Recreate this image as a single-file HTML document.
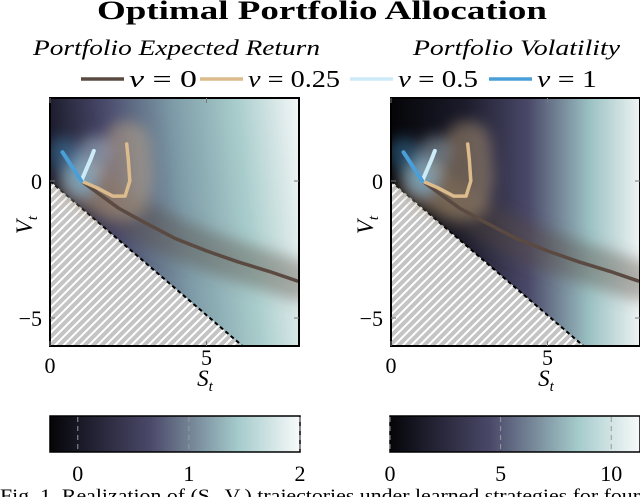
<!DOCTYPE html>
<html><head><meta charset="utf-8">
<style>
body{margin:0;background:#fff;width:640px;height:497px;overflow:hidden;font-family:"Liberation Serif",serif;}
svg text{font-family:"Liberation Serif",serif;}
</style></head>
<body>
<svg id="fig" width="640" height="497" viewBox="0 0 640 497" xmlns="http://www.w3.org/2000/svg">
<defs>
  <linearGradient id="gradL" x1="0" y1="0.1" x2="1" y2="0">
    <stop offset="0" stop-color="#1c1c2c"/><stop offset="0.22" stop-color="#48486a"/>
    <stop offset="0.5" stop-color="#7e9ca8"/><stop offset="0.75" stop-color="#a9cdcc"/>
    <stop offset="1" stop-color="#f4f7f7"/>
  </linearGradient>
  <linearGradient id="gradR" x1="0" y1="0" x2="1" y2="0">
    <stop offset="0" stop-color="#050508"/><stop offset="0.3" stop-color="#1c1c2c"/>
    <stop offset="0.55" stop-color="#4a4868"/><stop offset="0.8" stop-color="#9cc2c4"/>
    <stop offset="1" stop-color="#eef3f3"/>
  </linearGradient>
  <linearGradient id="cbar" x1="0" y1="0" x2="1" y2="0">
    <stop offset="0" stop-color="#050508"/><stop offset="0.15" stop-color="#1e1e2e"/>
    <stop offset="0.4" stop-color="#4a4868"/><stop offset="0.75" stop-color="#a4cacb"/>
    <stop offset="1" stop-color="#f8fafa"/>
  </linearGradient>
  <pattern id="hatch" width="6" height="6" patternUnits="userSpaceOnUse" patternTransform="rotate(-45)">
    <rect width="6" height="6" fill="#c4c4c4"/><rect width="6" height="2" fill="#fff"/>
  </pattern>
  <filter id="blur" filterUnits="userSpaceOnUse" x="0" y="0" width="640" height="497"><feGaussianBlur stdDeviation="7"/></filter>
  <clipPath id="clipL"><rect x="50" y="98" width="249" height="248"/></clipPath>
  <clipPath id="clipR"><rect x="391" y="98" width="249" height="248"/></clipPath>
</defs>
<text x="97" y="19" font-size="26" font-weight="bold" textLength="450" lengthAdjust="spacingAndGlyphs">Optimal Portfolio Allocation</text>
<text x="33" y="55" font-size="22" font-style="italic" textLength="287" lengthAdjust="spacingAndGlyphs">Portfolio Expected Return</text>
<text x="413" y="55" font-size="22" font-style="italic" textLength="207" lengthAdjust="spacingAndGlyphs">Portfolio Volatility</text>
<g id="legend"></g>
<g id="panelL"></g>
<g id="panelR"></g>
<g id="cbars"></g>
<text x="0" y="502" font-size="19" textLength="640" lengthAdjust="spacingAndGlyphs">Fig. 1.  Realization of (S<tspan font-size="13" dy="3">t</tspan><tspan dy="-3">, V</tspan><tspan font-size="13" dy="3">t</tspan><tspan dy="-3">) trajectories under learned strategies for four</tspan></text>
</svg>
<script>
const seriesNames = ["ν = 0","ν = 0.25","ν = 0.5","ν = 1"];
const seriesColors = ["#5a4a42","#dcbb8c","#cdeaf8","#4b9fd8"];
const path0S = [1.0,1.6,2.2,3.0,4.0,5.0,6.0,7.0,7.9];
const path0V = [0.0,-0.5,-1.0,-1.5,-2.1,-2.55,-2.95,-3.3,-3.65];
const path1S = [1.0,1.5,2.0,2.4,2.55,2.5,2.45];
const path1V = [0.0,-0.25,-0.55,-0.55,0.0,0.8,1.35];
const path2S = [1.0,1.15,1.3,1.4];
const path2V = [0.0,0.4,0.8,1.1];
const path3S = [1.0,0.8,0.6,0.4];
const path3V = [0.0,0.35,0.7,1.05];
const xTicks = [0,5];
const yTicks = [0,-5];
const cbLeftTicks = [0,1,2];
const cbRightTicks = [0,5,10];
const NS="http://www.w3.org/2000/svg";
function mk(tag,attrs,parent){const e=document.createElementNS(NS,tag);for(const k in attrs)e.setAttribute(k,attrs[k]);parent.appendChild(e);return e;}
const paths=[[path0S,path0V],[path1S,path1V],[path2S,path2V],[path3S,path3V]];
const cloudW=[40,46,30,30];
const legX=[81,200,350,489];
const legW=[68,92,80,60];
const leg=document.getElementById('legend');
seriesNames.forEach((n,i)=>{
  const l=mk('line',{x1:legX[i],y1:79,x2:legX[i]+43,y2:79,stroke:seriesColors[i],'stroke-width':3.5},leg);
  
  
  const t=mk('text',{x:legX[i]+48,y:87,'font-size':24,textLength:legW[i],lengthAdjust:'spacingAndGlyphs'},leg);
  
  
  t.innerHTML='<tspan font-style="italic">ν</tspan> = '+n.split('= ')[1];
});
function panel(gid,x0,grad,clip){
  const g=document.getElementById(gid);
  const top=98,bot=346,w=249,ppu=31.3,y0=181,ppv=27.4;
  const X=s=>x0+s*ppu, Y=v=>y0-v*ppv;
  const cg=mk('g',{'clip-path':'url(#'+clip+')'},g);
  const bg=mk('rect',{x:x0,y:top,width:w,height:bot-top,fill:'url(#'+grad+')'},cg);
  
  
  const tri=mk('polygon',{points:`${X(0)},${Y(0)} ${X(0)},${bot} ${X(6.15)},${bot}`,fill:'url(#hatch)'},cg);
  
  
  const bd=mk('line',{x1:X(0),y1:Y(0),x2:X(6.15),y2:bot,stroke:'#000','stroke-width':2,'stroke-dasharray':'4,3'},cg);
  
  
  const cloudG=mk('g',{filter:'url(#blur)'},cg);
  paths.forEach((p,i)=>{
    const d=p[0].map((s,k)=>(k?'L':'M')+X(s).toFixed(1)+','+Y(p[1][k]).toFixed(1)).join(' ');
    const cl=mk('path',{d:d,fill:'none',stroke:seriesColors[i],'stroke-width':cloudW[i],'stroke-opacity':0.4,'stroke-linecap':'round','stroke-linejoin':'round'},cloudG);
    
    
  });
  paths.forEach((p,i)=>{
    const d=p[0].map((s,k)=>(k?'L':'M')+X(s).toFixed(1)+','+Y(p[1][k]).toFixed(1)).join(' ');
    const ln=mk('path',{d:d,fill:'none',stroke:seriesColors[i],'stroke-width':i<2?3.5:4,'stroke-linecap':'round','stroke-linejoin':'round'},cg);
    
    
  });
  const fr=mk('rect',{x:x0,y:top,width:w,height:bot-top,fill:'none',stroke:'#000','stroke-width':2},g);
  
  
  xTicks.forEach(t=>{
    mk('line',{x1:X(t),y1:bot,x2:X(t),y2:bot-5,stroke:'#777'},g);
    mk('line',{x1:X(t),y1:top,x2:X(t),y2:top+5,stroke:'#777'},g);
    const tl=mk('text',{x:X(t),y:t===0?373:365,'text-anchor':'middle','font-size':22},g);
    
    
    tl.textContent=t;
  });
  yTicks.forEach(t=>{
    mk('line',{x1:x0,y1:Y(t),x2:x0+5,y2:Y(t),stroke:'#777'},g);
    mk('line',{x1:x0+w,y1:Y(t),x2:x0+w-5,y2:Y(t),stroke:'#777'},g);
    const tl=mk('text',{x:x0-8,y:Y(t)+8,'text-anchor':'end','font-size':22},g);
    
    
    tl.textContent=t<0?'−'+(-t):t;
  });
  const xl=mk('text',{x:x0+155,y:386,'text-anchor':'middle','font-size':23,'font-style':'italic'},g);
  
  
  xl.innerHTML='S<tspan font-size="15" dy="5">t</tspan>';
  const yl=mk('text',{x:0,y:0,'text-anchor':'middle','font-size':23,'font-style':'italic',transform:`translate(${x0-18},225) rotate(-90)`},g);
  
  
  yl.innerHTML='V<tspan font-size="15" dy="5">t</tspan>';
}
panel('panelL',50,'gradL','clipL');
panel('panelR',391,'gradR','clipR');
const cb=document.getElementById('cbars');
function colorbar(x0,w,ticks,vmin,vmax,name){
  const r=mk('rect',{x:x0,y:416,width:w,height:36,fill:'url(#cbar)',stroke:'#000','stroke-width':1.5},cb);
  
  
  ticks.forEach(t=>{
    const x=x0+(t-vmin)/(vmax-vmin)*w;
    mk('line',{x1:x,y1:417,x2:x,y2:451,stroke:'#999','stroke-dasharray':'5,4'},cb);
    const tl=mk('text',{x:x,y:481,'text-anchor':'middle','font-size':22},cb);
    
    
    tl.textContent=t;
  });
}
colorbar(50,250,cbLeftTicks,-0.25,2.0,'colorbar-expected-return');
colorbar(390,250,cbRightTicks,0,11.3,'colorbar-volatility');
</script>
</body></html>
